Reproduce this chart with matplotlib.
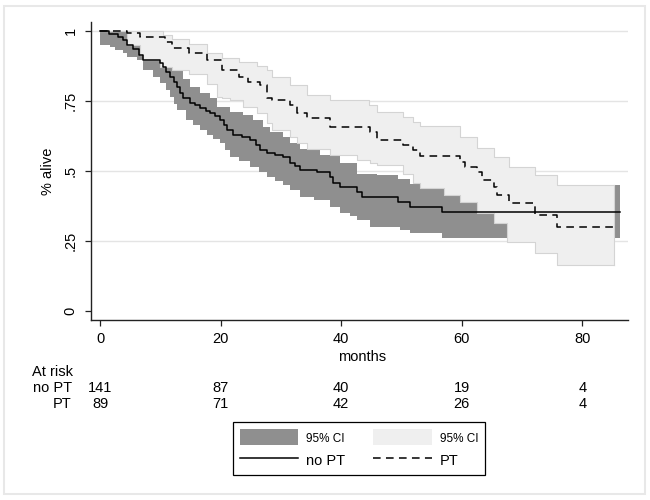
import numpy as np
import matplotlib.pyplot as plt
from matplotlib.patches import Patch, Rectangle
from matplotlib.lines import Line2D

plt.rcParams['font.family'] = ['Liberation Sans', 'DejaVu Sans']

# Kaplan-Meier estimate, no PT (step times in months, survival)
nopt_t = [0, 1.5, 3.0, 3.8, 4.5, 5.5, 6.5, 7.2, 10.0, 10.5, 11.0, 11.6, 12.2, 12.7,
          13.3, 13.8, 14.9, 15.8, 16.6, 17.5, 18.3, 19.0, 19.9, 20.5, 21.1, 22.1,
          23.5, 24.9, 25.8, 26.6, 27.7, 29.0, 30.4, 31.5, 32.3, 33.2, 36.0, 38.2,
          38.7, 39.8, 42.7, 43.5, 49.5, 51.5, 56.7]
nopt_s = [1.0, 0.99, 0.98, 0.968, 0.95, 0.935, 0.915, 0.896, 0.885, 0.871, 0.855,
          0.836, 0.818, 0.80, 0.78, 0.76, 0.743, 0.735, 0.725, 0.715, 0.707, 0.695,
          0.683, 0.665, 0.646, 0.629, 0.62, 0.611, 0.593, 0.575, 0.564, 0.557, 0.55,
          0.529, 0.517, 0.504, 0.496, 0.479, 0.457, 0.443, 0.425, 0.407, 0.389,
          0.371, 0.354]
nopt_end = 86.3

# 95% CI, no PT
nopt_lo_t = [0, 1.7, 2.5, 3.8, 4.5, 6.2, 7.2, 8.8, 10.0, 11.0, 11.6, 12.2, 12.7,
             14.3, 15.5, 16.6, 17.7, 18.8, 19.9, 20.8, 21.6, 23.0, 24.9, 26.3, 27.7,
             29.0, 30.4, 31.5, 33.2, 35.5, 38.2, 39.8, 41.5, 42.6, 44.8, 49.8, 51.5,
             56.7]
nopt_lo_s = [0.95, 0.944, 0.932, 0.92, 0.908, 0.896, 0.861, 0.837, 0.814, 0.79,
             0.765, 0.74, 0.718, 0.682, 0.665, 0.646, 0.63, 0.615, 0.60, 0.575, 0.551,
             0.535, 0.515, 0.497, 0.48, 0.465, 0.45, 0.432, 0.408, 0.398, 0.373, 0.35,
             0.34, 0.325, 0.301, 0.289, 0.279, 0.26]
nopt_hi_t = [0, 4.5, 7.2, 10.5, 11.6, 12.7, 13.8, 14.9, 16.6, 18.3, 19.4, 21.6, 23.8,
             25.4, 27.1, 28.2, 30.4, 31.5, 33.2, 36.5, 39.8, 42.7, 46.0, 49.5, 51.5,
             56.7]
nopt_hi_s = [1.0, 0.995, 0.955, 0.93, 0.9, 0.86, 0.83, 0.80, 0.78, 0.76, 0.73, 0.712,
             0.70, 0.682, 0.658, 0.64, 0.62, 0.60, 0.58, 0.556, 0.53, 0.49, 0.486,
             0.47, 0.455, 0.45]

# Kaplan-Meier estimate, PT
pt_t = [0, 4.4, 6.6, 10.8, 11.9, 14.7, 17.7, 20.2, 23.0, 24.6, 26.6, 27.7, 28.5,
        31.5, 32.6, 34.3, 38.2, 44.8, 45.9, 50.3, 52.0, 53.1, 59.8, 60.6, 62.5, 63.4,
        65.3, 65.8, 67.8, 72.2, 75.8]
pt_s = [1.0, 0.992, 0.98, 0.962, 0.938, 0.92, 0.896, 0.861, 0.837, 0.819, 0.807,
        0.76, 0.754, 0.736, 0.707, 0.688, 0.658, 0.64, 0.611, 0.593, 0.575, 0.554,
        0.533, 0.515, 0.496, 0.468, 0.444, 0.414, 0.385, 0.343, 0.301]
pt_end = 85.2

# 95% CI, PT
pt_lo_t = [0, 4.4, 6.6, 7.2, 10.0, 11.9, 14.7, 17.7, 19.4, 20.2, 21.6, 23.8, 26.0,
           27.7, 28.5, 31.5, 32.6, 34.3, 38.2, 42.7, 44.8, 45.9, 50.3, 52.0, 53.1,
           57.0, 59.8, 62.5, 65.3, 67.6, 72.2, 75.8]
pt_lo_s = [1.0, 0.95, 0.915, 0.896, 0.87, 0.86, 0.845, 0.81, 0.765, 0.76, 0.754,
           0.73, 0.706, 0.67, 0.646, 0.623, 0.60, 0.58, 0.556, 0.54, 0.53, 0.52,
           0.49, 0.457, 0.438, 0.414, 0.39, 0.349, 0.313, 0.248, 0.206, 0.164]
pt_hi_t = [0, 10.5, 12.0, 14.7, 17.7, 20.2, 23.0, 26.0, 27.7, 28.5, 31.5, 34.3, 38.2,
           44.6, 45.9, 50.3, 52.0, 53.1, 59.8, 62.5, 65.3, 67.8, 72.2, 75.8]
pt_hi_s = [1.0, 0.986, 0.97, 0.955, 0.92, 0.905, 0.89, 0.875, 0.861, 0.837, 0.807,
           0.771, 0.754, 0.736, 0.712, 0.694, 0.676, 0.661, 0.623, 0.581, 0.551,
           0.515, 0.486, 0.45]

risk_times = [0, 20, 40, 60, 80]
risk_nopt = [141, 87, 40, 19, 4]
risk_pt = [89, 71, 42, 26, 4]

DARK = '#8f8f8f'
LIGHT = '#efefef'


def step_at(t, v, grid):
    idx = np.searchsorted(t, grid, side='right') - 1
    return np.asarray(v)[idx]


def band(ax, lo_t, lo_s, hi_t, hi_s, end, color, z, edge=None):
    grid = np.unique(np.concatenate([lo_t, hi_t, [end]]))
    lo = step_at(lo_t, lo_s, grid)
    hi = step_at(hi_t, hi_s, grid)
    ax.fill_between(grid, lo, hi, step='post', color=color, lw=0, zorder=z)
    if edge:
        ax.step(grid, lo, where='post', color=edge, lw=0.8, zorder=z + 0.1)
        ax.step(grid, hi, where='post', color=edge, lw=0.8, zorder=z + 0.1)
        ax.plot([end, end], [lo[-1], hi[-1]], color=edge, lw=0.8, zorder=z + 0.1)


def curve(t, s, end):
    return np.append(t, end), np.append(s, s[-1])


fig = plt.figure(figsize=(6.5, 5), dpi=100)
ax = fig.add_axes([91 / 650, 1 - 320 / 500, 537 / 650, 298 / 500])

band(ax, nopt_lo_t, nopt_lo_s, nopt_hi_t, nopt_hi_s, nopt_end, DARK, 1)
band(ax, pt_lo_t, pt_lo_s, pt_hi_t, pt_hi_s, pt_end, LIGHT, 2, edge='#d4d4d4')

x, y = curve(nopt_t, nopt_s, nopt_end)
ax.step(x, y, where='post', color='black', lw=1.1, zorder=4)
x, y = curve(pt_t, pt_s, pt_end)
ax.step(x, y, where='post', color='black', lw=1.1, ls=(0, (5, 3.5)), zorder=4)

ax.set_xlim(-1.5, 87.6)
ax.set_ylim(-0.032, 1.032)
ax.set_xticks(risk_times)
ax.set_yticks([0, 0.25, 0.5, 0.75, 1])
ax.set_yticklabels(['0', '.25', '.5', '.75', '1'])
for g in [0.25, 0.5, 0.75, 1]:
    ax.axhline(g, color='#e4e4e4', lw=1, zorder=0)
for sp in ['top', 'right']:
    ax.spines[sp].set_visible(False)
for sp in ['left', 'bottom']:
    ax.spines[sp].set_color('#222222')
    ax.spines[sp].set_linewidth(1)
ax.tick_params(axis='both', direction='out', length=4.5, width=0.9,
               color='#222222', labelsize=10.5, pad=4)
ax.tick_params(axis='y', labelrotation=90, pad=5)
for lab in ax.get_yticklabels():
    lab.set_va('center')
ax.set_xlabel('months', fontsize=10.5)
ax.xaxis.set_label_coords(0.505, -0.10)
fig.text(48 / 650, 1 - 171 / 500, '% alive', fontsize=10.5, rotation=90,
         ha='center', va='center')

# number at risk table
tr = ax.get_xaxis_transform()
fig.text(32 / 650, 1 - 372 / 500, 'At risk', fontsize=10.5, va='center')
fig.text(72 / 650, 1 - 388 / 500, 'no PT', fontsize=10.5, va='center', ha='right')
fig.text(72 / 650, 1 - 404 / 500, 'PT', fontsize=10.5, va='center', ha='right')
for t, a, b in zip(risk_times, risk_nopt, risk_pt):
    ax.text(t, -(388 - 320) / 298, str(a), transform=tr, fontsize=10.5,
            ha='center', va='center', clip_on=False)
    ax.text(t, -(404 - 320) / 298, str(b), transform=tr, fontsize=10.5,
            ha='center', va='center', clip_on=False)

handles = [Patch(facecolor=DARK, edgecolor='none'),
           Line2D([], [], color='black', lw=1.1),
           Patch(facecolor=LIGHT, edgecolor='none'),
           Line2D([], [], color='black', lw=1.1, ls=(0, (5, 3.5)))]
labels = ['95% CI', 'no PT', '95% CI', 'PT']
leg = fig.legend(handles, labels, ncol=2, loc='upper center',
                 bbox_to_anchor=(359 / 650, 1 - 415 / 500), fancybox=False,
                 edgecolor='black', framealpha=1, fontsize=10.5,
                 handlelength=4.0, handleheight=1.3, handletextpad=0.55,
                 columnspacing=1.9, borderpad=0.45, labelspacing=0.5)
leg.get_frame().set_linewidth(0.9)
for i in [0, 2]:
    leg.get_texts()[i].set_fontsize(8.5)

# outer graph region border
fig.patches.append(Rectangle((4 / 650, 6 / 500), 641 / 650, 488 / 500,
                             transform=fig.transFigure, fill=False,
                             edgecolor='#e8e8e8', lw=1.5))

fig.savefig('out.png', dpi=100)
